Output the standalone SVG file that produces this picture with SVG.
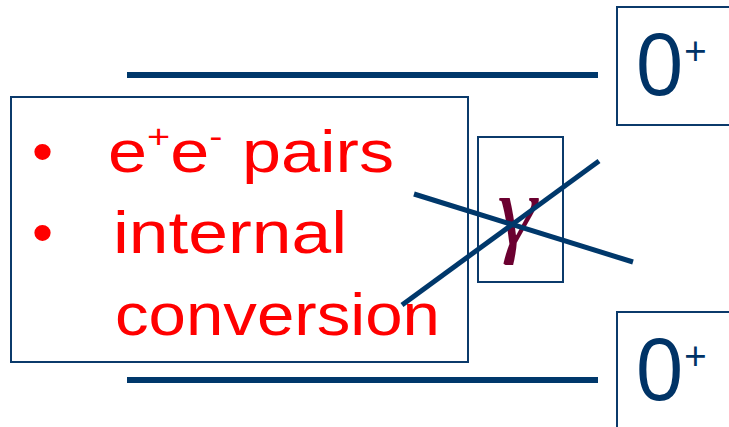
<svg xmlns="http://www.w3.org/2000/svg" width="729" height="427" viewBox="0 0 729 427">
<style>
.box{fill:none;stroke:#0b3a6b;stroke-width:2}
.ln{stroke:#00386b;stroke-width:6;stroke-linecap:butt}
.red{fill:#ff0000;font-family:"Comic Sans MS","Liberation Sans",sans-serif;font-size:60px}
.zp{fill:#003366;font-family:"Open Sans","Liberation Sans",sans-serif}
</style>
<rect width="729" height="427" fill="#ffffff"/>
<g id="level-top">
<line class="ln" x1="127" y1="75" x2="598" y2="75"/>
</g>
<g id="level-bottom">
<line class="ln" x1="127" y1="380" x2="598" y2="380"/>
</g>
<g id="label-box">
<rect class="box" x="11" y="97" width="457" height="265"/>
<text class="red" x="32" y="172">•</text>
<text class="red" x="32" y="253">•</text>
<text class="red" x="108" y="172" textLength="286" lengthAdjust="spacingAndGlyphs">e<tspan font-size="34" dy="-24">+</tspan><tspan dy="24">e</tspan><tspan font-size="34" dy="-24">-</tspan><tspan dy="24"> pairs</tspan></text>
<text class="red" x="113" y="253" textLength="234" lengthAdjust="spacingAndGlyphs">internal</text>
<text class="red" x="115" y="335" textLength="325" lengthAdjust="spacingAndGlyphs">conversion</text>
</g>
<g id="gamma">
<rect class="box" x="478" y="137" width="85" height="145"/>
<text x="517" y="244" text-anchor="middle" fill="#6b0030" font-family="Liberation Serif,serif" font-style="italic" font-size="100">γ</text>
</g>
<g id="connectors">
<line stroke="#00386b" stroke-width="5" x1="414" y1="194" x2="633" y2="262"/>
<line stroke="#00386b" stroke-width="5" x1="402" y1="305" x2="599" y2="161"/>
</g>
<g id="state-top">
<rect class="box" x="617" y="7" width="120" height="118"/>
<text class="zp" x="635" y="95" font-size="86">0</text>
<text class="zp" x="684" y="66" font-size="40">+</text>
</g>
<g id="state-bottom">
<rect class="box" x="617" y="312" width="120" height="130"/>
<text class="zp" x="635" y="400" font-size="86">0</text>
<text class="zp" x="684" y="371" font-size="40">+</text>
</g>
</svg>
